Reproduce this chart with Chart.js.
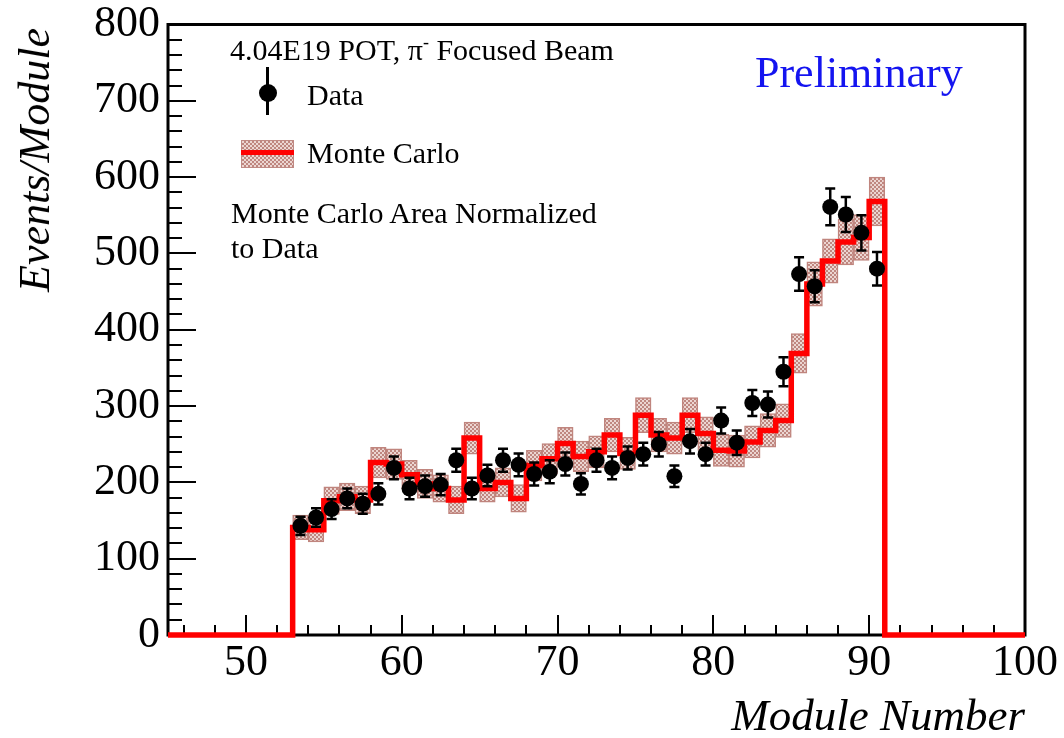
<!DOCTYPE html>
<html lang="en">
<head>
    <meta charset="UTF-8">
    <title>Events per Module</title>
    <script src="https://cdn.jsdelivr.net/npm/chart.js"></script>
    <style>
        body { margin: 0; background: #fff; }
        .wrap { position: relative; width: 1064px; height: 738px; font-family: 'Liberation Serif', 'DejaVu Serif', serif; color: #000; }
        .txt { position: absolute; white-space: nowrap; font-size: 30px; line-height: 30px; }
        .prelim { position: absolute; left: 755px; top: 51px; font-size: 44px; line-height: 44px; color: #1414f0; white-space: nowrap; }
        .ytitle { position: absolute; left: 35px; top: 160px; font-size: 44px; line-height: 44px; font-style: italic;
                  white-space: nowrap; transform: translate(-50%, -50%) rotate(-90deg); }
        .dataMark { position: absolute; left: 266px; top: 67px; width: 3px; height: 48px; background: #000; }
        .dataDot { position: absolute; left: 259px; top: 84px; width: 18px; height: 18px; border-radius: 50%; background: #000; }
        .mcBox { position: absolute; left: 241px; top: 140px; width: 51px; height: 26px; border: 1px solid #c08a84;
                 background: repeating-conic-gradient(#bf8780 0 25%, #ecd6d2 0 50%) 0 0 / 4px 4px; }
        .mcLine { position: absolute; left: 241px; top: 150px; width: 53px; height: 5px; background: #ff0000; }
        sup { font-size: 18px; vertical-align: 12px; }
    </style>
</head>
<body>
<div class="wrap">
    <canvas id="c" width="1064" height="738"></canvas>
    <div class="ytitle">Events/Module</div>
    <div class="txt" style="left:230px; top:27px;">4.04E19 POT, &pi;<sup>-</sup> Focused Beam</div>
    <div class="dataMark"></div><div class="dataDot"></div>
    <div class="txt" style="left:307px; top:80px;">Data</div>
    <div class="mcBox"></div><div class="mcLine"></div>
    <div class="txt" style="left:307px; top:138px;">Monte Carlo</div>
    <div class="txt" style="left:231px; top:198px;">Monte Carlo Area Normalized</div>
    <div class="txt" style="left:231px; top:233px;">to Data</div>
    <div class="prelim">Preliminary</div>
</div>

<script>
// module bins (low edge), each 1 module wide
const modules = [53, 54, 55, 56, 57, 58, 59, 60, 61, 62, 63, 64, 65, 66, 67, 68, 69, 70, 71,
                 72, 73, 74, 75, 76, 77, 78, 79, 80, 81, 82, 83, 84, 85, 86, 87, 88, 89, 90];
const dataEvents = [143, 154, 165, 179, 172, 185, 219, 192, 195, 197, 229, 192, 209, 229, 223, 211, 214, 224, 198,
                    229, 219, 232, 237, 250, 208, 254, 237, 281, 252, 304, 302, 345, 473, 457, 561, 551, 527, 480];
const dataErr = [12, 12, 13, 13, 13, 14, 15, 14, 14, 14, 15, 14, 14, 15, 15, 15, 15, 15, 14,
                 15, 15, 15, 15, 16, 14, 16, 15, 17, 16, 17, 17, 19, 22, 21, 24, 23, 23, 22];
const mcEvents = [141, 138, 176, 181, 177, 226, 224, 210, 198, 192, 177, 258, 192, 200, 179, 222, 231, 251, 234,
                  240, 262, 238, 288, 262, 258, 288, 264, 242, 241, 253, 268, 281, 369, 460, 490, 515, 521, 568];
const mcErr = [16, 16, 18, 18, 18, 20, 20, 19, 19, 18, 18, 21, 18, 19, 18, 20, 20, 21, 20,
               21, 22, 21, 23, 22, 21, 23, 22, 21, 21, 21, 22, 22, 26, 29, 29, 30, 30, 32];
const xTicks = [50, 60, 70, 80, 90, 100];
const yTicks = [0, 100, 200, 300, 400, 500, 600, 700, 800];
const xRange = [45, 100];
const yRange = [0, 800];

const serif = "'Liberation Serif', 'DejaVu Serif', serif";

// checker hatch for the MC uncertainty band
function hatch() {
    const p = document.createElement('canvas');
    p.width = 4; p.height = 4;
    const g = p.getContext('2d');
    g.fillStyle = '#ecd6d2'; g.fillRect(0, 0, 4, 4);
    g.fillStyle = '#bf8780'; g.fillRect(0, 0, 2, 2); g.fillRect(2, 2, 2, 2);
    return g.createPattern(p, 'repeat');
}

// MC histogram outline as a stepped line through the bin edges
const lastEdge = modules[modules.length - 1] + 1;
const mcLine = [{x: xRange[0], y: 0}]
    .concat(modules.map((m, i) => ({x: m, y: mcEvents[i]})))
    .concat([{x: lastEdge, y: 0}, {x: xRange[1], y: 0}]);

// ROOT style frame with inward ticks
const framePlugin = {
    id: 'frame',
    beforeDatasetsDraw(chart) {
        const {ctx, chartArea: a, scales: {x, y}} = chart;
        ctx.save();
        ctx.strokeStyle = '#000';
        ctx.lineWidth = 2;
        ctx.beginPath();
        for (let v = yRange[0]; v <= yRange[1]; v += 20) {
            const py = Math.round(y.getPixelForValue(v));
            ctx.moveTo(a.left, py);
            ctx.lineTo(a.left + (v % 100 === 0 ? 28 : 14), py);
        }
        for (let v = 46; v <= xRange[1]; v += 2) {
            const px = Math.round(x.getPixelForValue(v));
            ctx.moveTo(px, a.bottom);
            ctx.lineTo(px, a.bottom - (v % 10 === 0 ? 20 : 10));
        }
        ctx.stroke();
        ctx.lineWidth = 3;
        ctx.strokeRect(a.left, a.top, a.right - a.left, a.bottom - a.top);
        ctx.restore();
    }
};

// vertical error bars with caps on the data points
const errorBarPlugin = {
    id: 'errbars',
    afterDatasetsDraw(chart) {
        const {ctx, scales: {x, y}} = chart;
        ctx.save();
        ctx.strokeStyle = '#000';
        ctx.lineWidth = 2.5;
        ctx.beginPath();
        modules.forEach((m, i) => {
            const px = x.getPixelForValue(m + 0.5);
            const lo = y.getPixelForValue(dataEvents[i] - dataErr[i]);
            const hi = y.getPixelForValue(dataEvents[i] + dataErr[i]);
            ctx.moveTo(px, lo); ctx.lineTo(px, hi);
            ctx.moveTo(px - 5, lo); ctx.lineTo(px + 5, lo);
            ctx.moveTo(px - 5, hi); ctx.lineTo(px + 5, hi);
        });
        ctx.stroke();
        ctx.restore();
    }
};

new Chart(document.getElementById('c'), {
    type: 'line',
    data: {
        datasets: [{
            type: 'bar',
            label: 'MC uncertainty',
            data: modules.map((m, i) => ({x: m + 0.5, y: [mcEvents[i] - mcErr[i], mcEvents[i] + mcErr[i]]})),
            backgroundColor: hatch(),
            borderColor: 'rgba(185, 120, 112, 0.9)',
            borderWidth: 1.5,
            borderSkipped: false,
            barPercentage: 1,
            categoryPercentage: 1,
            order: 3
        }, {
            type: 'line',
            label: 'Monte Carlo',
            data: mcLine,
            stepped: 'before',
            borderColor: '#ff0000',
            borderWidth: 5.5,
            pointRadius: 0,
            fill: false,
            clip: false,
            order: 2
        }, {
            type: 'scatter',
            label: 'Data',
            data: modules.map((m, i) => ({x: m + 0.5, y: dataEvents[i]})),
            backgroundColor: '#000',
            borderColor: '#000',
            pointRadius: 8,
            borderWidth: 0,
            order: 1
        }]
    },
    options: {
        responsive: false,
        animation: false,
        devicePixelRatio: 1,
        layout: { padding: { top: 17, right: 39, left: 0, bottom: 0 } },
        plugins: { legend: { display: false }, tooltip: { enabled: false } },
        scales: {
            x: {
                type: 'linear',
                min: xRange[0],
                max: xRange[1],
                offset: false,
                grid: { display: false, drawTicks: false },
                border: { display: false },
                afterBuildTicks: s => { s.ticks = xTicks.map(v => ({value: v})); },
                afterFit: s => { s.height = 103; },
                ticks: { color: '#000', padding: 2, maxRotation: 0, autoSkip: false,
                         font: { family: serif, size: 44, lineHeight: 1.2 } },
                title: { display: true, text: 'Module Number', align: 'end', color: '#000', padding: { top: 0, bottom: -3 },
                         font: { family: serif, size: 45, style: 'italic', lineHeight: 1 } }
            },
            y: {
                type: 'linear',
                min: yRange[0],
                max: yRange[1],
                grid: { display: false, drawTicks: false },
                border: { display: false },
                afterBuildTicks: s => { s.ticks = yTicks.map(v => ({value: v})); },
                afterFit: s => { s.width = 168; },
                ticks: { color: '#000', padding: 8, font: { family: serif, size: 44, lineHeight: 0.75 } }
            }
        }
    },
    plugins: [framePlugin, errorBarPlugin]
});
</script>
</body>
</html>
